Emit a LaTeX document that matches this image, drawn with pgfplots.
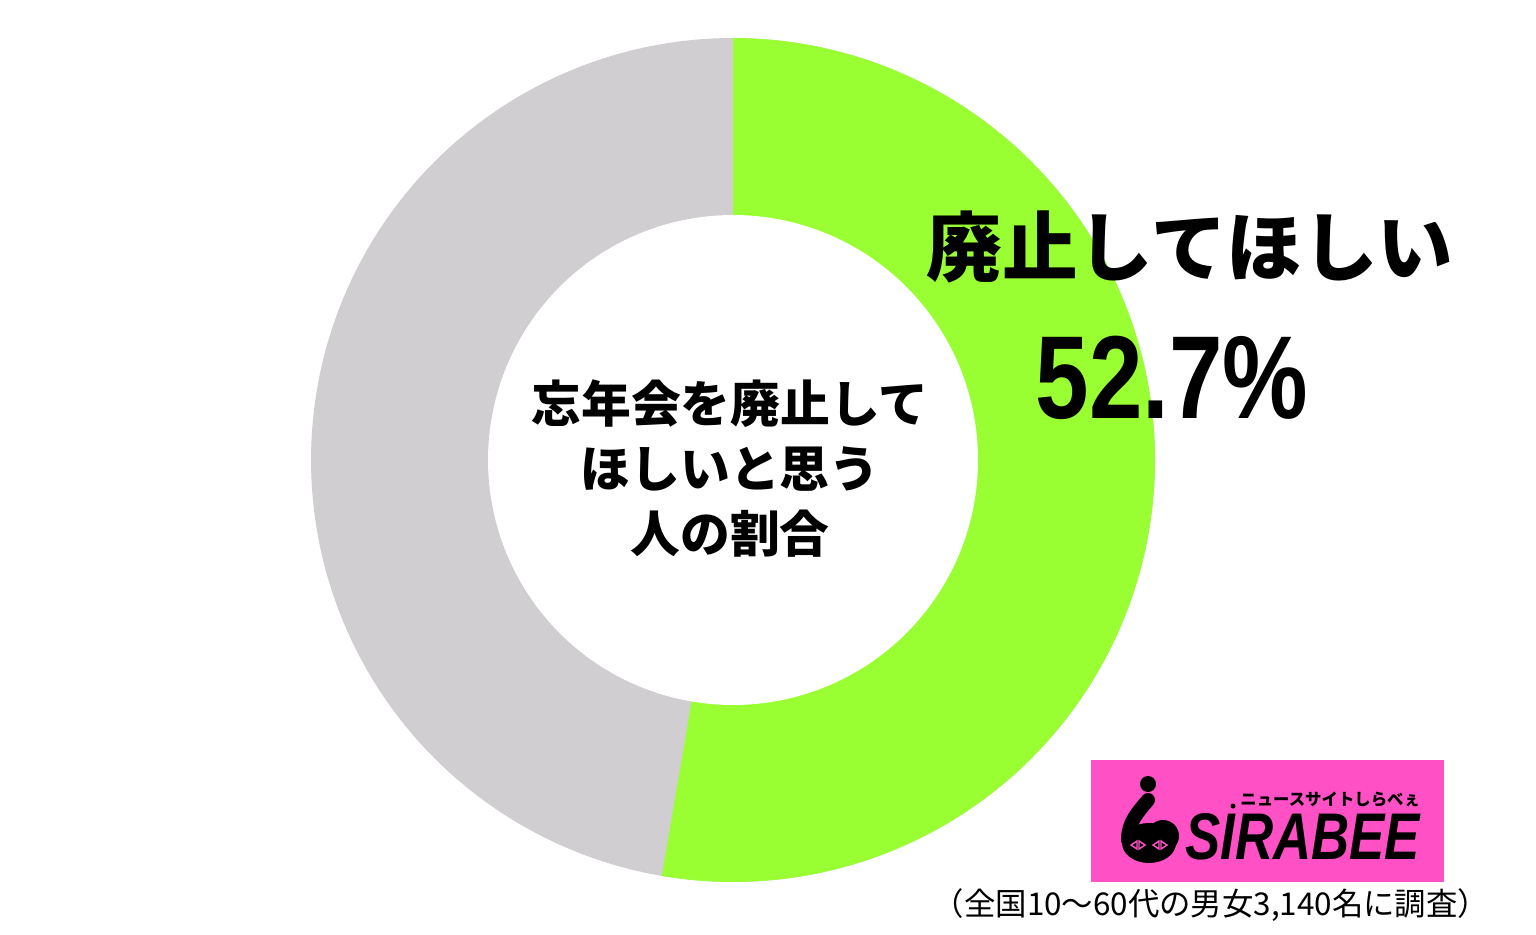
\documentclass[border=0pt]{standalone}
\usepackage{pgfplots}
\pgfplotsset{compat=1.18}
\usepackage{pgfplotstable}
\usepackage{fontspec}
\setmainfont{Liberation Sans}
\newfontfamily\jp{Noto Sans CJK JP}

\definecolor{ringgreen}{HTML}{99FF33}
\definecolor{ringgray}{HTML}{D0CED0}
\definecolor{logopink}{HTML}{FF50C6}

% share of answers, percent
\pgfplotstableread{
answer share
yes 52.7
no 47.3
}\sharetable
\pgfplotstablegetelem{0}{share}\of\sharetable
\pgfmathsetmacro\yesangle{3.6*\pgfplotsretval}

\begin{document}
\begin{tikzpicture}
\path[use as bounding box] (0,0) rectangle (768pt,467.5pt);
\begin{axis}[
  at={(0,0)}, anchor=south west,
  scale only axis, width=768pt, height=467.5pt,
  xmin=0, xmax=1536, ymin=0, ymax=935, y dir=reverse,
  hide axis, clip=false,
]
  % ring: gray base, green share, white hole
  \addplot[fill=ringgray, draw=none, domain=0:360, samples=241]
    ({733+422*sin(x)}, {460-422*cos(x)}) -- cycle;
  \addplot[fill=ringgreen, draw=none, domain=0:\yesangle, samples=161]
    ({733+422*sin(x)}, {460-422*cos(x)}) -- (733,460) -- cycle;
  \addplot[fill=white, draw=none, domain=0:360, samples=241]
    ({733+245*sin(x)}, {460-245*cos(x)}) -- cycle;

  \node[align=center, font=\jp\bfseries\fontsize{24.9pt}{32.5pt}\selectfont]
    at (730,469) {忘年会を廃止して\\ほしいと思う\\人の割合};
  \node[font=\jp\bfseries\fontsize{37.8pt}{42pt}\selectfont] at (1190,247) {廃止してほしい};
  \node[font=\bfseries\fontsize{59pt}{64pt}\selectfont] at (1172,378) {\scalebox{0.815}[1]{52.7\%}};

  % logo
  \fill[logopink] (1091,760) rectangle (1444,882);
  \fill[black] (1148,784) circle[radius=8];
  \fill[black] (1149,843) ellipse[x radius=27, y radius=20];
  \fill[black] (1163,836) circle[radius=16];
  \draw[black, line width=7pt, line cap=round] (1148,800) .. controls (1138,812) and (1128,822) .. (1128,840);
  \pgfplotsinvokeforeach{1138,1160}{
    \draw[logopink, line width=0.7pt] (#1-7,845) -- (#1-1,841) -- (#1-1,849) -- cycle;
    \draw[logopink, line width=0.7pt] (#1+7,845) -- (#1+1,841) -- (#1+1,849) -- cycle;
  }
  \node[font=\bfseries\itshape\fontsize{33pt}{36pt}\selectfont, anchor=west, inner sep=0pt]
    at (1185,837) {\scalebox{0.80}[1]{SIRABEE}};
  \node[font=\jp\bfseries\fontsize{8.2pt}{9pt}\selectfont, anchor=west, inner sep=0pt]
    at (1240,800) {ニュースサイトしらべぇ};
  \fill[black] (1233,806) circle[radius=2.5];

  \node[font=\jp\fontsize{15.7pt}{18pt}\selectfont] at (1211,905) {（全国10～60代の男女3,140名に調査）};
\end{axis}
\end{tikzpicture}
\end{document}
